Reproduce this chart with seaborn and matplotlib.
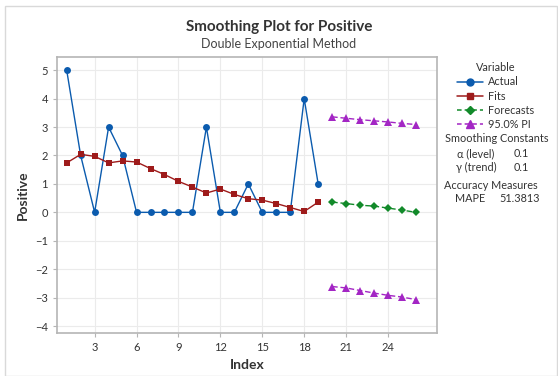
import pandas as pd
import matplotlib.pyplot as plt
import seaborn as sns
from matplotlib.lines import Line2D
from matplotlib.patches import Rectangle

# data
index_obs = list(range(1, 20))
actual = [5, 2, 0, 3, 2, 0, 0, 0, 0, 0, 3, 0, 0, 1, 0, 0, 0, 4, 1]
fits = [1.74, 2.04, 1.97, 1.74, 1.81, 1.77, 1.54, 1.33, 1.09, 0.89,
        0.68, 0.82, 0.63, 0.48, 0.43, 0.31, 0.17, 0.03, 0.36]
index_fc = list(range(20, 27))
forecasts = [0.36, 0.31, 0.25, 0.22, 0.15, 0.08, 0.0]
pi_upper = [3.36, 3.31, 3.26, 3.22, 3.18, 3.13, 3.09]
pi_lower = [-2.61, -2.66, -2.75, -2.84, -2.92, -2.98, -3.07]

x_ticks = [3, 6, 9, 12, 15, 18, 21, 24]
y_ticks = [-4, -3, -2, -1, 0, 1, 2, 3, 4, 5]

c_actual = "#0B5BAE"
c_fits = "#9E1B1B"
c_fc = "#128A2A"
c_pi = "#A326C4"

sns.set_style("white")
plt.rcParams["font.family"] = ["Lato", "DejaVu Sans"]

fig = plt.figure(figsize=(5.58, 3.76), dpi=100)
ax = fig.add_axes([0.102, 0.114, 0.681, 0.734])

df_obs = pd.DataFrame({"Index": index_obs, "Actual": actual, "Fits": fits})
df_fc = pd.DataFrame({"Index": index_fc, "Forecasts": forecasts,
                      "Upper": pi_upper, "Lower": pi_lower})

sns.lineplot(data=df_obs, x="Index", y="Actual", ax=ax, color=c_actual,
             marker="o", markersize=5, linewidth=1.0, markeredgewidth=0)
sns.lineplot(data=df_obs, x="Index", y="Fits", ax=ax, color=c_fits,
             marker="s", markersize=5, linewidth=1.0, markeredgewidth=0)
sns.lineplot(data=df_fc, x="Index", y="Forecasts", ax=ax, color=c_fc,
             marker="D", markersize=4.5, linewidth=1.0, linestyle=(0, (4, 2)),
             markeredgewidth=0)
for col in ["Upper", "Lower"]:
    sns.lineplot(data=df_fc, x="Index", y=col, ax=ax, color=c_pi,
                 marker="^", markersize=6, linewidth=1.0,
                 linestyle=(0, (4, 2)), markeredgewidth=0)

ax.set_xlim(0.3, 27.5)
ax.set_ylim(-4.25, 5.46)
ax.set_xticks(x_ticks)
ax.set_yticks(y_ticks)
ax.grid(True, color="#EBEBEB", linewidth=0.8)
ax.set_axisbelow(True)
for s in ax.spines.values():
    s.set_color("#B5B5B5")
    s.set_linewidth(1.2)
ax.tick_params(axis="both", labelsize=8, colors="#333333", length=3,
               color="#B5B5B5", direction="out", left=True, bottom=True)
ax.set_xlabel("Index", fontsize=10, fontweight="bold", color="#333333")
ax.set_ylabel("Positive", fontsize=10, fontweight="bold", color="#333333")

fig.text(0.5, 0.928, "Smoothing Plot for Positive", ha="center", va="center",
         fontsize=11, fontweight="bold", color="#333333")
fig.text(0.5, 0.883, "Double Exponential Method", ha="center", va="center",
         fontsize=9, color="#444444")

handles = [
    Line2D([], [], color=c_actual, marker="o", markersize=5, linewidth=1.1),
    Line2D([], [], color=c_fits, marker="s", markersize=5, linewidth=1.1),
    Line2D([], [], color=c_fc, marker="D", markersize=4.5, linewidth=1.1,
           linestyle=(0, (3, 2))),
    Line2D([], [], color=c_pi, marker="^", markersize=6, linewidth=1.1,
           linestyle=(0, (3, 2))),
]
leg = fig.legend(handles, ["Actual", "Fits", "Forecasts", "95.0% PI"],
                 title="Variable", loc="upper left",
                 bbox_to_anchor=(0.805, 0.855), frameon=False, fontsize=7.8,
                 title_fontsize=7.8, handlelength=2.4, handletextpad=0.5,
                 labelspacing=0.3, borderpad=0.2)
leg.get_title().set_color("#333333")
for t in leg.get_texts():
    t.set_color("#333333")

tc = "#333333"
fig.text(0.891, 0.632, "Smoothing Constants", ha="center", va="center", fontsize=7.8, color=tc)
fig.text(0.853, 0.592, "α (level)", ha="center", va="center", fontsize=7.8, color=tc)
fig.text(0.934, 0.592, "0.1", ha="center", va="center", fontsize=7.8, color=tc)
fig.text(0.853, 0.555, "γ (trend)", ha="center", va="center", fontsize=7.8, color=tc)
fig.text(0.934, 0.555, "0.1", ha="center", va="center", fontsize=7.8, color=tc)
fig.text(0.880, 0.507, "Accuracy Measures", ha="center", va="center", fontsize=7.8, color=tc)
fig.text(0.842, 0.473, "MAPE", ha="center", va="center", fontsize=7.8, color=tc)
fig.text(0.932, 0.473, "51.3813", ha="center", va="center", fontsize=7.8, color=tc)

fig.patches.append(Rectangle((0.009, 0.0), 0.99, 0.985, transform=fig.transFigure,
                             fill=False, edgecolor="#D9D9D9", linewidth=1))

fig.savefig("out.png", dpi=100)
